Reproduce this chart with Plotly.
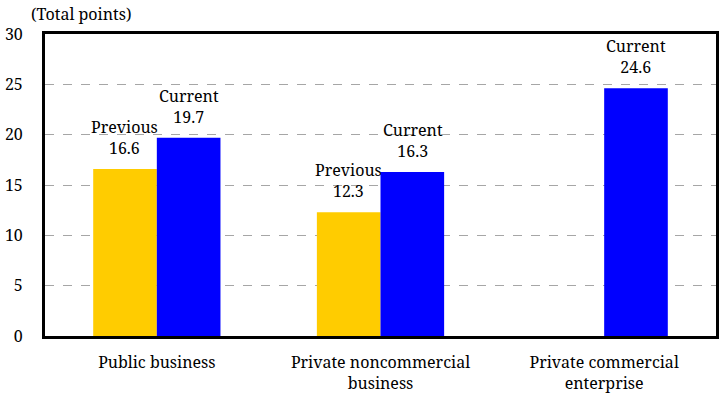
import plotly.graph_objects as go

categories = ["Public business", "Private noncommercial<br>business", "Private commercial<br>enterprise"]
previous = [16.6, 12.3, None]
current = [19.7, 16.3, 24.6]
y_ticks = [0, 5, 10, 15, 20, 25, 30]

FONT = "Noto Serif"
FS = 16

fig = go.Figure()
fig.add_trace(go.Bar(x=categories, y=previous, name="Previous", marker_color="#FFCC00",
                     marker_line_width=0))
fig.add_trace(go.Bar(x=categories, y=current, name="Current", marker_color="#0000FF",
                     marker_line_width=0))

# value labels above bars, anchored at each bar's data value
for name, vals, shift in (("Previous", previous, -32), ("Current", current, 32)):
    for cat, v in zip(categories, vals):
        if v is None:
            continue
        fig.add_annotation(x=cat, y=v, xref="x", yref="y", text=f"{name}<br>{v:.1f}",
                           showarrow=False, xanchor="center", yanchor="bottom",
                           xshift=shift, yshift=8,
                           font=dict(family=FONT, size=FS, color="#000"))

fig.update_layout(
    width=721, height=399,
    margin=dict(l=45, r=2, t=34, b=63),
    paper_bgcolor="white", plot_bgcolor="white",
    barmode="group", bargap=0.431, bargroupgap=0,
    showlegend=False,
    font=dict(family=FONT, size=FS, color="#000"),
)
fig.update_xaxes(showline=True, linecolor="black", linewidth=3, mirror=True,
                 showgrid=False, ticks="", ticklabelstandoff=10,
                 tickfont=dict(family=FONT, size=FS))
fig.update_yaxes(range=[0, 30], tickvals=y_ticks, showline=True, linecolor="black",
                 linewidth=3, mirror=True, showgrid=True, gridcolor="#a6a6a6",
                 griddash="dash", gridwidth=1, zeroline=False, ticks="",
                 ticklabelstandoff=16, tickfont=dict(family=FONT, size=FS))
fig.add_annotation(text="(Total points)", xref="paper", yref="paper", x=-0.024, y=1.0,
                   xanchor="left", yanchor="bottom", yshift=7, showarrow=False,
                   font=dict(family=FONT, size=FS))
fig.write_html("out.html")
